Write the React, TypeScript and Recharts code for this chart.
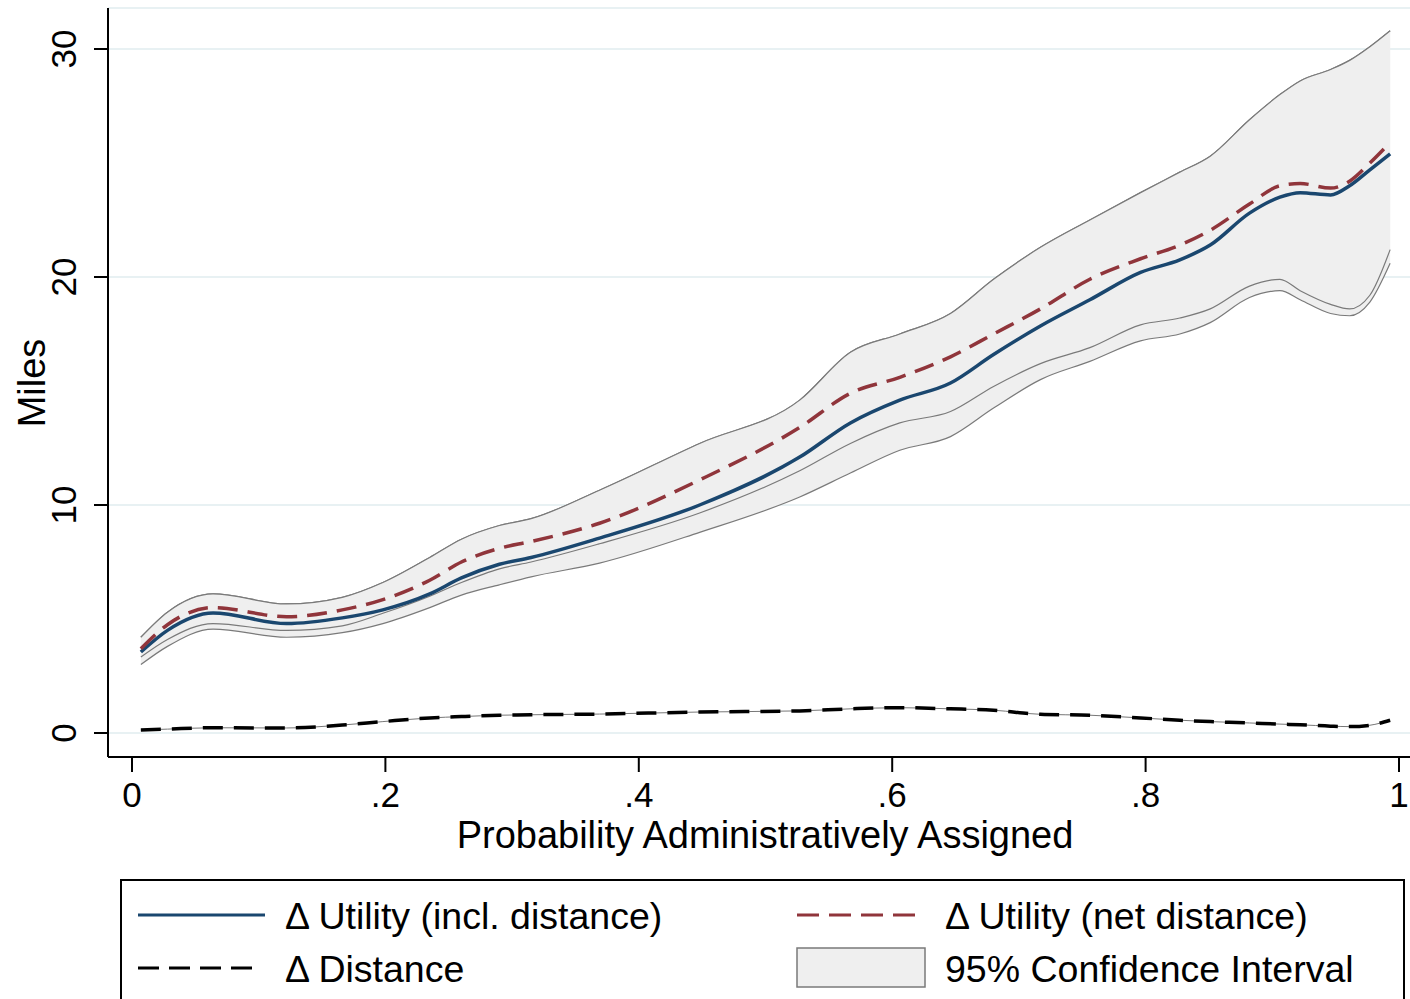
import React from 'react';
import { ComposedChart, Line, Area, XAxis, YAxis, CartesianGrid, Label } from 'recharts';

// values
const probability = [0.007, 0.028, 0.064, 0.122, 0.166, 0.198, 0.235, 0.26, 0.29, 0.315, 0.369, 0.448, 0.527, 0.567, 0.606, 0.646, 0.68, 0.717, 0.756, 0.796, 0.827, 0.851, 0.882, 0.906, 0.922, 0.946, 0.961, 0.977, 0.993];
const utilityIncl = [3.55, 4.5, 5.26, 4.8, 5.05, 5.4, 6.1, 6.8, 7.4, 7.7, 8.55, 10.0, 12.1, 13.6, 14.6, 15.35, 16.6, 17.85, 19.0, 20.2, 20.75, 21.4, 22.8, 23.5, 23.7, 23.6, 24.0, 24.7, 25.4];
const utilityNet = [3.7, 4.75, 5.5, 5.1, 5.4, 5.85, 6.7, 7.5, 8.1, 8.4, 9.2, 11.1, 13.4, 14.9, 15.6, 16.5, 17.5, 18.6, 19.9, 20.8, 21.4, 22.05, 23.2, 24.0, 24.1, 23.9, 24.2, 25.0, 25.9];
const distance = [0.13, 0.17, 0.23, 0.22, 0.35, 0.5, 0.66, 0.72, 0.78, 0.8, 0.83, 0.92, 0.97, 1.06, 1.11, 1.06, 1.0, 0.82, 0.78, 0.66, 0.56, 0.5, 0.44, 0.39, 0.36, 0.3, 0.28, 0.34, 0.56];
const ciUpper = [4.2, 5.3, 6.1, 5.66, 5.95, 6.6, 7.7, 8.5, 9.1, 9.4, 10.65, 12.7, 14.6, 16.7, 17.5, 18.4, 19.9, 21.3, 22.5, 23.7, 24.6, 25.3, 26.9, 28.0, 28.6, 29.1, 29.5, 30.1, 30.8];
const ciLowerNet = [3.33, 4.1, 4.8, 4.5, 4.7, 5.25, 6.0, 6.6, 7.2, 7.5, 8.3, 9.65, 11.5, 12.7, 13.6, 14.1, 15.2, 16.2, 16.9, 17.9, 18.2, 18.6, 19.6, 19.9, 19.4, 18.8, 18.6, 19.2, 21.2];
const ciLowerIncl = [3.0, 3.8, 4.56, 4.2, 4.4, 4.8, 5.5, 6.05, 6.5, 6.85, 7.45, 8.8, 10.35, 11.4, 12.4, 13.0, 14.25, 15.5, 16.3, 17.2, 17.5, 18.0, 19.1, 19.4, 19.0, 18.4, 18.3, 18.9, 20.6];

const xTicks = [0, 0.2, 0.4, 0.6, 0.8, 1];
const yTicks = [0, 10, 20, 30];

const FONT = '"Liberation Sans", Arial, Helvetica, sans-serif';
const BLUE = '#1a476f';
const RED = '#90353b';
const CI_FILL = '#efefef';
const CI_STROKE = '#7a7a7a';

const data = probability.map((p, i) => ({
  p,
  incl: utilityIncl[i],
  net: utilityNet[i],
  dist: distance[i],
  bandIncl: [ciLowerIncl[i], ciUpper[i]],
  bandNet: [ciLowerNet[i], ciUpper[i]],
}));

const fmtX = (v: number) => (v === 0 ? '0' : v === 1 ? '1' : String(v).replace(/^0/, ''));

const XTick = ({ x, payload }: any) => (
  <text x={x} y={807} textAnchor="middle" fontSize={35} fontFamily={FONT} fill="#000">
    {fmtX(payload.value)}
  </text>
);

const YTick = ({ y, payload }: any) => (
  <text x={76} y={y} transform={`rotate(-90, 76, ${y})`} textAnchor="middle" fontSize={35} fontFamily={FONT} fill="#000">
    {payload.value}
  </text>
);

const Legend = () => (
  <svg width={1410} height={130} style={{ position: 'absolute', left: 0, top: 870 }}>
    <rect x={121} y={10} width={1283} height={130} fill="#fff" stroke="#000" strokeWidth={2} />
    <line x1={138} x2={265} y1={45} y2={45} stroke={BLUE} strokeWidth={3} />
    <text x={285} y={46} dominantBaseline="central" fontSize={37.5} fontFamily={FONT}>Δ Utility (incl. distance)</text>
    <line x1={797} x2={917} y1={45} y2={45} stroke={RED} strokeWidth={3} strokeDasharray="22 10" />
    <text x={945} y={46} dominantBaseline="central" fontSize={37.5} fontFamily={FONT}>Δ Utility (net distance)</text>
    <line x1={138} x2={258} y1={98} y2={98} stroke="#000" strokeWidth={3} strokeDasharray="21 10" />
    <text x={285} y={99} dominantBaseline="central" fontSize={37.5} fontFamily={FONT}>Δ Distance</text>
    <rect x={797} y={78} width={128} height={39} fill={CI_FILL} stroke={CI_STROKE} strokeWidth={1.5} />
    <text x={945} y={99} dominantBaseline="central" fontSize={37.5} fontFamily={FONT}>95% Confidence Interval</text>
  </svg>
);

export default function App() {
  return (
    <div style={{ position: 'fixed', left: 0, top: 0, width: 1410, height: 999, overflow: 'hidden', background: '#fff' }}>
      <ComposedChart width={1410} height={999} data={data} margin={{ top: 8, right: 0, left: 8, bottom: 182 }}>
        <CartesianGrid vertical={false} stroke="#e8f1f3" strokeWidth={2} />
        <XAxis
          dataKey="p"
          type="number"
          domain={[-0.01894, 1.00868]}
          ticks={xTicks}
          allowDataOverflow
          height={60}
          tick={<XTick />}
          tickSize={15}
          axisLine={{ stroke: '#000', strokeWidth: 2 }}
          tickLine={{ stroke: '#000', strokeWidth: 2 }}
        >
          <Label
            content={() => (
              <text x={765} y={848} textAnchor="middle" fontSize={38} fontFamily={FONT} fill="#000">
                Probability Administratively Assigned
              </text>
            )}
          />
        </XAxis>
        <YAxis
          type="number"
          domain={[-1.0526, 31.798]}
          ticks={yTicks}
          allowDataOverflow
          width={100}
          tick={<YTick />}
          tickSize={14}
          axisLine={{ stroke: '#000', strokeWidth: 2 }}
          tickLine={{ stroke: '#000', strokeWidth: 2 }}
        >
          <Label
            content={() => (
              <text x={45} y={383} transform="rotate(-90, 45, 383)" textAnchor="middle" fontSize={38} fontFamily={FONT} fill="#000">
                Miles
              </text>
            )}
          />
        </YAxis>
        <Area dataKey="bandIncl" type="monotone" fill={CI_FILL} fillOpacity={1} stroke={CI_STROKE} strokeWidth={1.2} isAnimationActive={false} />
        <Area dataKey="bandNet" type="monotone" fill={CI_FILL} fillOpacity={1} stroke={CI_STROKE} strokeWidth={1.2} isAnimationActive={false} />
        <Line dataKey="dist" type="monotone" stroke="#777" strokeWidth={1} dot={false} isAnimationActive={false} />
        <Line dataKey="dist" type="monotone" stroke="#000" strokeWidth={3.5} strokeDasharray="20 11" dot={false} isAnimationActive={false} />
        <Line dataKey="incl" type="monotone" stroke={BLUE} strokeWidth={3.5} dot={false} isAnimationActive={false} />
        <Line dataKey="net" type="monotone" stroke={RED} strokeWidth={3.5} strokeDasharray="20 10" dot={false} isAnimationActive={false} />
      </ComposedChart>
      <Legend />
    </div>
  );
}
